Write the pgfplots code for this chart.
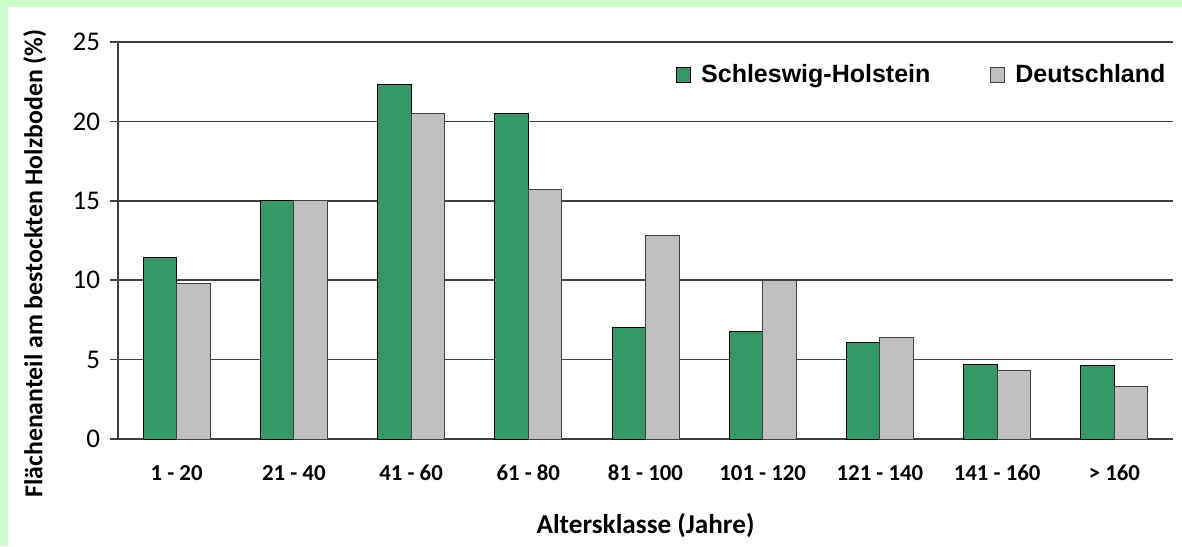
\documentclass[border=0pt]{standalone}
\usepackage{pgfplots}
\pgfplotsset{compat=1.18}
\usepackage{fontspec}
\setmainfont{Carlito}
\newfontfamily\arial{Liberation Sans}
\definecolor{shgreen}{HTML}{339966}
\definecolor{degrey}{HTML}{C0C0C0}
\definecolor{bggreen}{HTML}{CCFFCC}
\definecolor{axgrey}{HTML}{404040}
\begin{document}
\begin{tikzpicture}
\fill[bggreen] (0,0) rectangle (591pt,273pt);
\fill[white] (4pt,0) rectangle (591pt,269.5pt);
\begin{axis}[
  at={(59pt,53.5pt)}, anchor=south west,
  scale only axis, width=527.5pt, height=198.5pt,
  ybar=0pt, bar width=16.75pt,
  xmin=0.5, xmax=9.5, ymin=0, ymax=25,
  xtick={1,...,9},
  xticklabels={1 - 20, 21 - 40, 41 - 60, 61 - 80, 81 - 100, 101 - 120, 121 - 140, 141 - 160, > 160},
  ytick={0,5,...,25},
  axis lines*=left,
  ymajorgrids, grid style={axgrey, line width=0.75pt},
  axis line style={axgrey, line width=0.75pt},
  xtick style={draw=none},
  ytick style={axgrey, line width=0.75pt},
  tick align=outside, major tick length=4pt,
  /pgf/number format/assume math mode=true,
  yticklabel style={font=\fontsize{13.5}{15}\selectfont, xshift=-1.5pt},
  xticklabel style={font=\bfseries\fontsize{11.4}{13}\selectfont, anchor=base, yshift=-16.5pt},
  xlabel={Altersklasse (Jahre)},
  ylabel={Flächenanteil am bestockten Holzboden (\%)},
  xlabel style={font=\bfseries\fontsize{13.6}{15}\selectfont, at={(axis description cs:0.5,0)}, anchor=base, yshift=-47pt},
  ylabel style={font=\bfseries\fontsize{12.9}{14}\selectfont, at={([xshift=-37.75pt,yshift=-11.5pt]axis description cs:0,0.5)}, anchor=base},
  legend columns=2,
  legend style={draw=none, fill=none, at={(0.997,0.917)}, anchor=east, inner sep=0pt,
    font=\arial\bfseries\fontsize{12.5}{14}\selectfont,
    /tikz/every even column/.append style={column sep=28pt}},
  legend image code/.code={\draw[#1, line width=0.5pt] (0pt,-3.75pt) rectangle (7pt,3.75pt); \path (10pt,0pt);},
]
\addplot[fill=shgreen, draw=black, line width=0.5pt] coordinates {(1,11.4) (2,15.0) (3,22.3) (4,20.5) (5,7.0) (6,6.8) (7,6.1) (8,4.7) (9,4.6)};
\addplot[fill=degrey, draw=axgrey, line width=0.5pt] coordinates {(1,9.8) (2,15.0) (3,20.5) (4,15.7) (5,12.8) (6,10.0) (7,6.4) (8,4.3) (9,3.3)};
\legend{Schleswig-Holstein, Deutschland}
\end{axis}
\end{tikzpicture}
\end{document}
